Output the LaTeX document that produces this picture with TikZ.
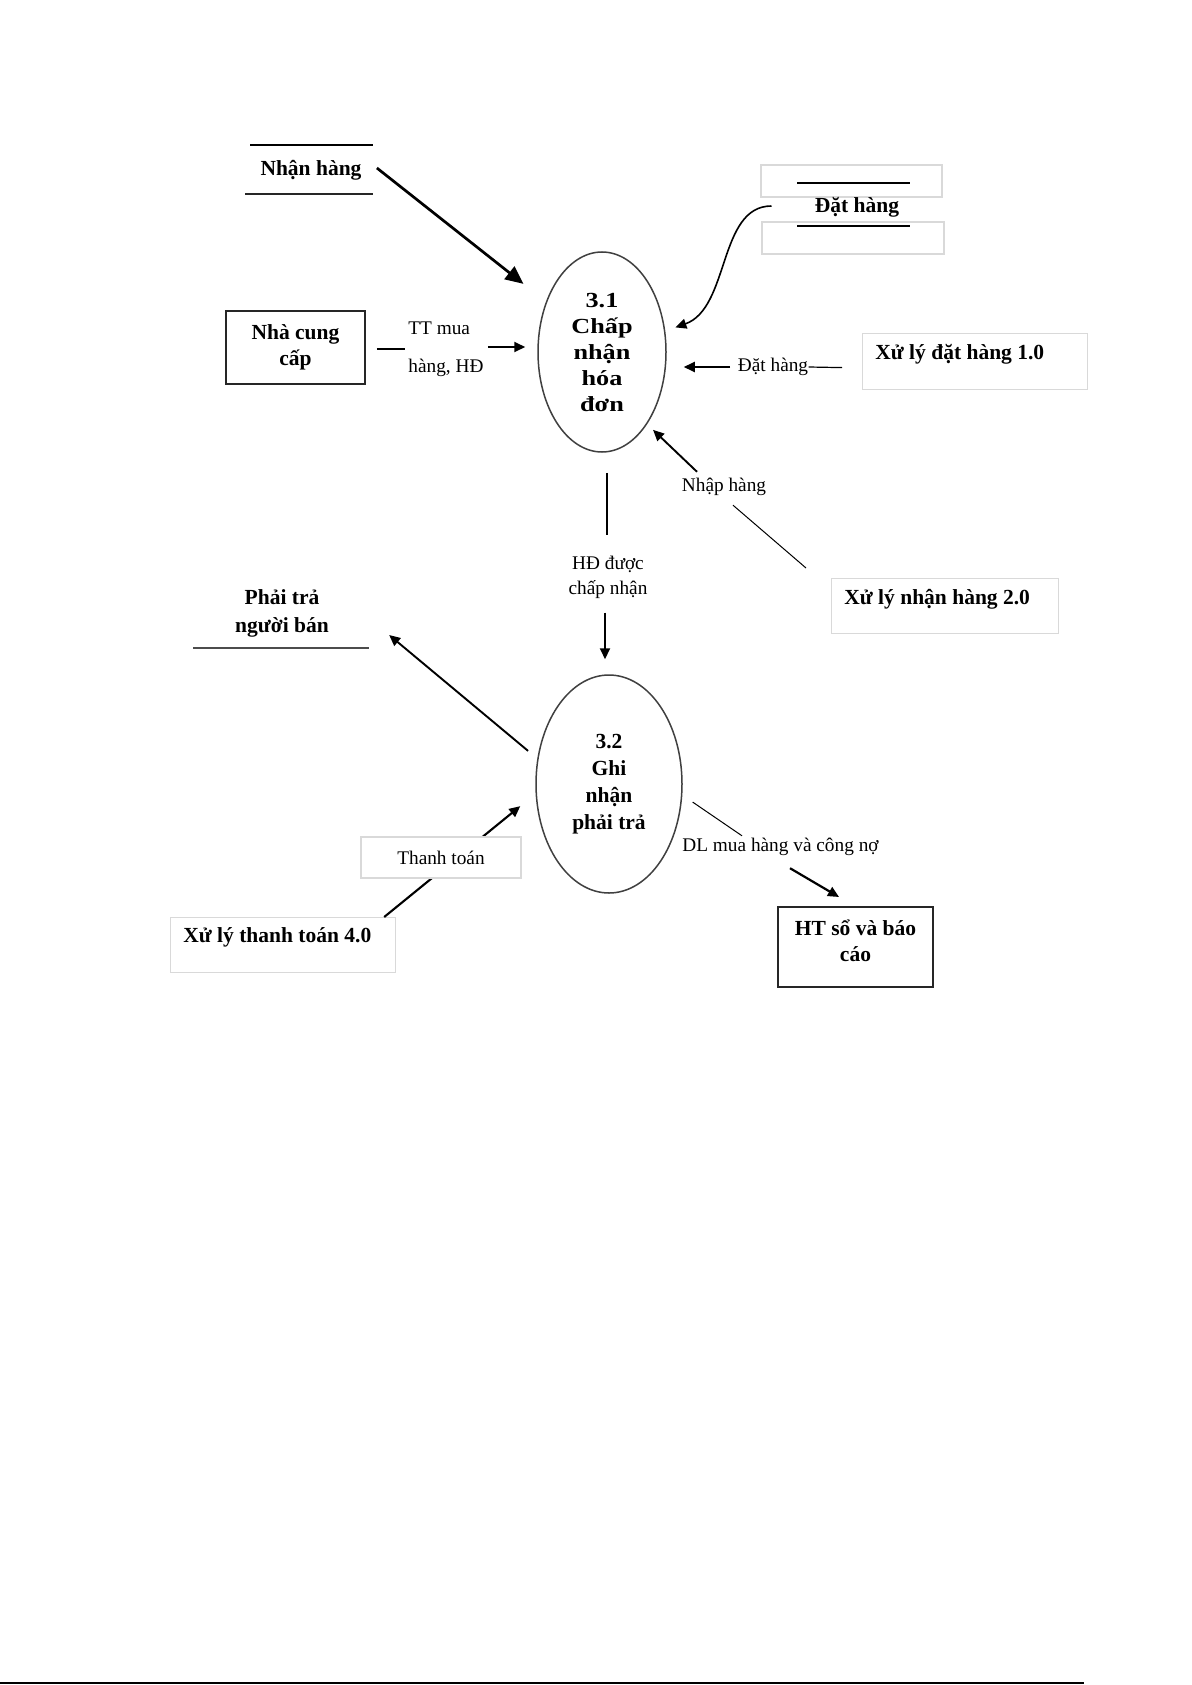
\documentclass[tikz,border=0pt]{standalone}
\usepackage{fontspec}
\setmainfont{Liberation Serif}
\newfontfamily\wideserif[FakeStretch=1.22]{Liberation Serif}
\usetikzlibrary{shapes.geometric,arrows.meta}
\begin{document}
\begin{tikzpicture}[x=0.5pt,y=-0.5pt,
 bt/.style={font=\fontsize{10.75}{13}\selectfont\bfseries, align=center, inner sep=0pt},
 rt/.style={font=\fontsize{9.65}{12.5}\selectfont, align=center, inner sep=0pt},
 proc/.style={ellipse, draw=black!75, line width=0.75pt, inner sep=0pt},
 ext/.style={rectangle, draw=black!85, line width=0.85pt, inner sep=0pt},
 lbox/.style={rectangle, draw=black!15, line width=0.6pt, fill=white, inner sep=0pt},
 arr/.style={line width=0.95pt, -{Triangle[length=5.5pt,width=5pt]}},
 bigarr/.style={line width=1.35pt, -{Triangle[length=9pt,width=8pt]}},
 ln/.style={line width=0.5pt},
]
\useasboundingbox (0,0) rectangle (1192,1685);
\fill[white] (0,0) rectangle (1192,1685);

% Nhan hang store
\draw[line width=0.9pt] (250,145) -- (373,145);
\draw[line width=1.4pt, black!85] (245,194) -- (373,194);
\node[bt] (nhan) at (311,170) {Nhận hàng};

% process 3.1
\node[proc, minimum width=64pt, minimum height=100pt, bt, font=\wideserif\fontsize{10.75}{13}\selectfont\bfseries] (p31) at (602,352) {3.1\\Chấp\\nhận\\hóa\\đơn};

% Nha cung cap
\node[ext, bt, minimum width=69.5pt, minimum height=36.5pt] (ncc) at (295.5,347.5) {Nhà cung\\cấp};
\node[rt, align=left, anchor=west, font=\fontsize{9.65}{19}\selectfont] (lbTT) at (408,349) {TT mua\\hàng, HĐ};

% Dat hang store
\draw[lbox] (761,165) rectangle (942,197);
\draw[lbox] (762,222) rectangle (944,254);
\draw[line width=0.9pt] (797,183) -- (910,183);
\draw[line width=0.9pt] (797,226) -- (910,226);
\node[bt] (dat) at (857,207) {Đặt hàng};

% x1
\node[lbox, minimum width=112.5pt, minimum height=28pt, anchor=north west] (x1) at (862,333) {};
\node[bt, anchor=west] (x1t) at (875,354) {Xử lý đặt hàng 1.0};
\node[rt] (lbDat) at (773,367) {Đặt hàng};

% x2
\node[lbox, minimum width=113.5pt, minimum height=27.5pt, anchor=north west] (x2) at (831,578) {};
\node[bt, anchor=west] (x2t) at (844,599) {Xử lý nhận hàng 2.0};
\node[rt] (lbNhap) at (724,487) {Nhập hàng};

% HD label
\node[rt] (lbHD) at (608,577) {HĐ được\\chấp nhận};

% process 3.2
\node[proc, minimum width=73pt, minimum height=109pt, bt, font=\fontsize{10.75}{13.5}\selectfont\bfseries] (p32) at (609,784) {3.2\\Ghi\\nhận\\phải trả};

% Phai tra store
\node[bt, font=\fontsize{10.75}{14}\selectfont\bfseries] (ptr) at (282,613) {Phải trả\\người bán};
\draw[line width=0.9pt, black!70] (193,648) -- (369,648);

% x4
\node[lbox, minimum width=112.5pt, minimum height=27.5pt, anchor=north west] (x4) at (170,917) {};
\node[bt, anchor=west] (x4t) at (183,937) {Xử lý thanh toán 4.0};

% HT
\node[ext, minimum width=77.5pt, minimum height=40pt, anchor=north] (ht) at (855.5,906) {};
\node[bt] (htt) at (855.5,941) {HT sổ và báo\\cáo};
\node[rt] (lbDL) at (780.5,847) {DL mua hàng và công nợ};

% connectors
\draw[bigarr] ([shift={(15,-2)}]nhan.east) -- ([shift={(-22,-19)}]p31.139);
\draw[line width=0.6pt] ([shift={(11,1.5)}]ncc.east) -- ([shift={(-3,0)}]lbTT.west);
\draw[arr] ([shift={(4,-2)}]lbTT.east) -- ([shift={(-12,-5)}]p31.west);
\draw[arr, line width=0.8pt] ([shift={(-43,-1)}]dat.west) .. controls (718,206) and (730,308) .. ([shift={(10,-4)}]p31.18);
\draw[line width=0.6pt] (lbDat.east) -- ([shift={(-20,6)}]x1.west);
\draw[arr] ([shift={(-7.5,0)}]lbDat.west) -- ([shift={(17,15)}]p31.east);
\draw[ln] ([shift={(-25,-10)}]x2.north west) -- ([shift={(9,9)}]lbNhap.south);
\draw[arr] ([shift={(-27,-6)}]lbNhap.north) -- ([shift={(5,7)}]p31.303);
\draw[line width=0.65pt] ([shift={(5,20)}]p31.south) -- ([shift={(-1,-20)}]lbHD.north);
\draw[arr] ([shift={(-3,14)}]lbHD.south) -- ([shift={(-4,-15)}]p32.north);
\draw[arr] ([shift={(-10,-3)}]p32.157) -- ([shift={(60,22)}]ptr.east);
\draw[arr, line width=1.05pt] ([shift={(-12,0)}]x4.north east) -- ([shift={(-16,4)}]p32.194);
\node[lbox, rt, minimum width=80pt, minimum height=20.5pt] (lbTh) at (441,857.5) {Thanh toán};
\draw[ln] ([shift={(10.7,2.6)}]p32.348) -- ([shift={(60,-2)}]lbDL.north west);
\draw[arr, line width=1.1pt] ([shift={(9.5,12)}]lbDL.south) -- ([shift={(-16.5,-9)}]ht.north);

% page footer rule
\draw[line width=0.9pt] (0,1683) -- (1084,1683);
\end{tikzpicture}
\end{document}
